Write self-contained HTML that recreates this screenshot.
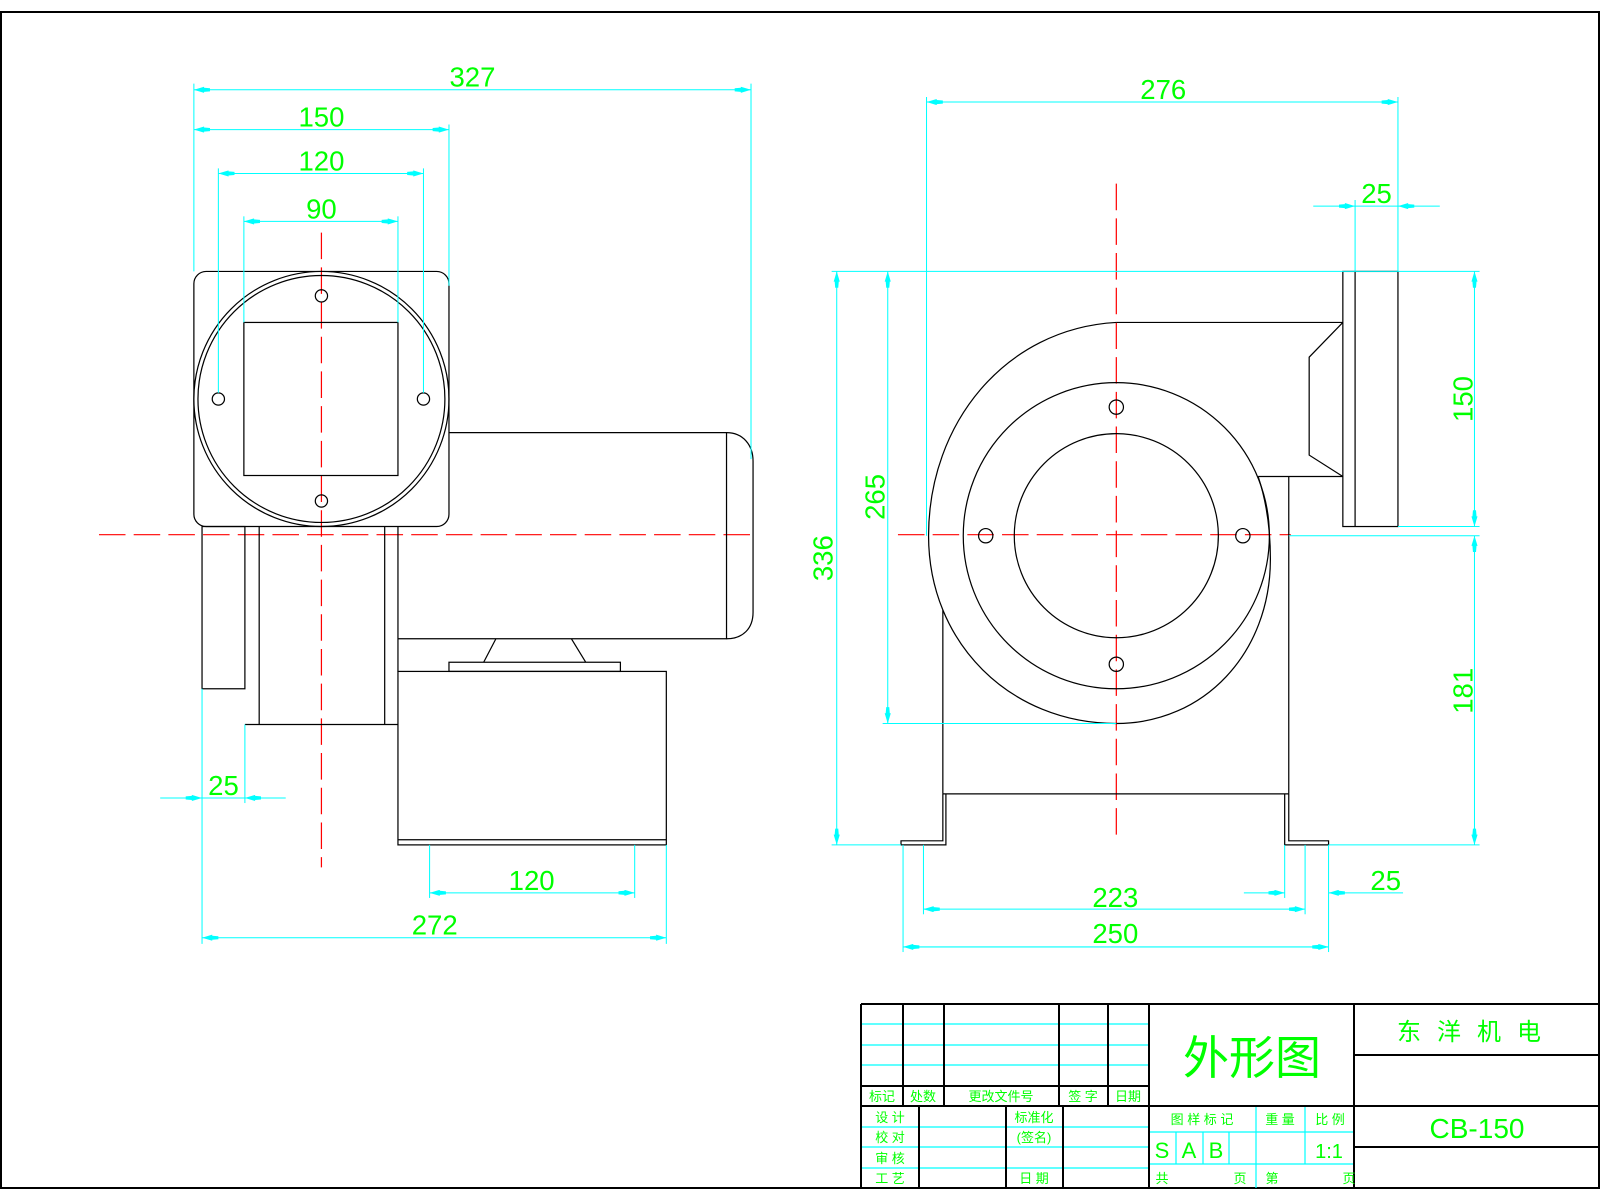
<!DOCTYPE html>
<html><head><meta charset="utf-8"><style>
html,body{margin:0;padding:0;background:#fff;}
svg{display:block;}
text{font-family:"Liberation Sans","Noto Sans CJK SC",sans-serif;}
</style></head><body>
<svg width="1600" height="1200" viewBox="0 0 1600 1200" xmlns="http://www.w3.org/2000/svg">
<defs>
<marker id="a" markerWidth="16" markerHeight="6" refX="16" refY="3" orient="auto-start-reverse" markerUnits="userSpaceOnUse"><path d="M0,1.5 L6,1 L6,0 L16,3 L6,6 L6,5 L0,4.5z" fill="#00ffff"/></marker>
</defs>
<rect x="1" y="12" width="1598" height="1176" fill="none" stroke="#000" stroke-width="2"/>
<g transform="scale(1.0204)">
<g stroke="#ff0000" stroke-width="1.2" stroke-dasharray="26,8" fill="none">
<line x1="97" y1="524" x2="740" y2="524"/>
<line x1="315" y1="228" x2="315" y2="850"/>
<line x1="880" y1="524" x2="1265" y2="524"/>
<line x1="1094" y1="180" x2="1094" y2="822"/>
</g>
<g stroke="#000" stroke-width="1.2" fill="none">
<rect x="190" y="266" width="250" height="250" rx="12"/>
<circle cx="315" cy="391" r="125"/>
<circle cx="315" cy="391" r="121"/>
<rect x="239" y="316" width="151" height="150"/>
<circle cx="315" cy="290" r="6"/><circle cx="315" cy="491" r="6"/>
<circle cx="214" cy="391" r="6"/><circle cx="415" cy="391" r="6"/>
<path d="M440,424 L712,424 L712,626 L390,626"/>
<path d="M712,424 C728,424 738,436 738,452 L738,600 C738,616 728,626 712,626"/>
<rect x="198" y="516" width="42" height="159"/>
<line x1="254" y1="516" x2="254" y2="710"/>
<line x1="377" y1="516" x2="377" y2="710"/>
<line x1="240" y1="710" x2="390" y2="710"/>
<line x1="390" y1="516" x2="390" y2="658"/>
<path d="M486,626 L474,649 M560,626 L574,649"/>
<rect x="440" y="649" width="168" height="9"/>
<rect x="390" y="658" width="263" height="170"/>
<line x1="390" y1="823" x2="653" y2="823"/>
</g>
<g stroke="#000" stroke-width="1.2" fill="none">
<path d="M1094,316 C985,322 910,415 910,525 C910,630 990,709 1094,709 C1180,709 1245,640 1245,548 C1245,515 1240,488 1233,467"/>
<line x1="1094" y1="316" x2="1316" y2="316"/>
<line x1="1233" y1="467" x2="1316" y2="467"/>
<path d="M1316,316 L1283,350 L1283,446 L1316,467"/>
<rect x="1316" y="266" width="54" height="250"/>
<line x1="1328" y1="266" x2="1328" y2="516"/>
<line x1="1263" y1="467" x2="1263" y2="778"/>
<line x1="924" y1="598" x2="924" y2="778"/>
<line x1="924" y1="778" x2="1263" y2="778"/>
<path d="M924,778 L924,824 L883,824 L883,828 L927,828 L927,778"/>
<path d="M1263,778 L1263,824 L1302,824 L1302,828 L1259,828 L1259,778"/>
<circle cx="1094" cy="525" r="150"/>
<circle cx="1094" cy="525" r="100"/>
<circle cx="1094" cy="399" r="7"/><circle cx="1094" cy="651" r="7"/>
<circle cx="966" cy="525" r="7"/><circle cx="1218" cy="525" r="7"/>
</g>
<g stroke="#00ffff" stroke-width="1" fill="none">
<line x1="190" y1="82" x2="190" y2="266"/><line x1="736" y1="82" x2="736" y2="450"/>
<line x1="190" y1="88" x2="736" y2="88" marker-start="url(#a)" marker-end="url(#a)"/>
<line x1="440" y1="122" x2="440" y2="280"/>
<line x1="190" y1="127" x2="440" y2="127" marker-start="url(#a)" marker-end="url(#a)"/>
<line x1="214" y1="165" x2="214" y2="385"/><line x1="415" y1="165" x2="415" y2="385"/>
<line x1="214" y1="170" x2="415" y2="170" marker-start="url(#a)" marker-end="url(#a)"/>
<line x1="239" y1="212" x2="239" y2="316"/><line x1="390" y1="212" x2="390" y2="316"/>
<line x1="239" y1="217" x2="390" y2="217" marker-start="url(#a)" marker-end="url(#a)"/>
<line x1="198" y1="675" x2="198" y2="925"/><line x1="240" y1="710" x2="240" y2="787"/>
<line x1="157" y1="782" x2="198" y2="782" marker-end="url(#a)"/>
<line x1="280" y1="782" x2="240" y2="782" marker-end="url(#a)"/>
<line x1="198" y1="782" x2="240" y2="782"/>
<line x1="421" y1="828" x2="421" y2="880"/><line x1="622" y1="828" x2="622" y2="880"/>
<line x1="421" y1="875" x2="622" y2="875" marker-start="url(#a)" marker-end="url(#a)"/>
<line x1="653" y1="828" x2="653" y2="925"/>
<line x1="198" y1="919" x2="653" y2="919" marker-start="url(#a)" marker-end="url(#a)"/>
<line x1="908" y1="95" x2="908" y2="525"/><line x1="1370" y1="95" x2="1370" y2="266"/>
<line x1="908" y1="100" x2="1370" y2="100" marker-start="url(#a)" marker-end="url(#a)"/>
<line x1="1328" y1="196" x2="1328" y2="266"/>
<line x1="1287" y1="202" x2="1328" y2="202" marker-end="url(#a)"/>
<line x1="1411" y1="202" x2="1370" y2="202" marker-end="url(#a)"/>
<line x1="1328" y1="202" x2="1370" y2="202"/>
<line x1="815" y1="266" x2="1450" y2="266"/>
<line x1="815" y1="828" x2="883" y2="828"/><line x1="1302" y1="828" x2="1450" y2="828"/>
<line x1="820" y1="266" x2="820" y2="828" marker-start="url(#a)" marker-end="url(#a)"/>
<line x1="865" y1="709" x2="1094" y2="709"/>
<line x1="870" y1="266" x2="870" y2="709" marker-start="url(#a)" marker-end="url(#a)"/>
<line x1="1370" y1="516" x2="1450" y2="516"/>
<line x1="1445" y1="266" x2="1445" y2="516" marker-start="url(#a)" marker-end="url(#a)"/>
<line x1="1263" y1="525" x2="1450" y2="525"/>
<line x1="1445" y1="525" x2="1445" y2="828" marker-start="url(#a)" marker-end="url(#a)"/>
<line x1="905" y1="828" x2="905" y2="896"/><line x1="1279" y1="828" x2="1279" y2="896"/>
<line x1="905" y1="891" x2="1279" y2="891" marker-start="url(#a)" marker-end="url(#a)"/>
<line x1="1259" y1="828" x2="1259" y2="880"/><line x1="1302" y1="828" x2="1302" y2="933"/>
<line x1="1219" y1="875" x2="1259" y2="875" marker-end="url(#a)"/>
<line x1="1375" y1="875" x2="1302" y2="875" marker-end="url(#a)"/>
<line x1="885" y1="828" x2="885" y2="933"/>
<line x1="885" y1="928" x2="1302" y2="928" marker-start="url(#a)" marker-end="url(#a)"/>
</g>
<g fill="#00ff00" font-size="27" text-anchor="middle">
<text x="463" y="85">327</text>
<text x="315" y="124">150</text>
<text x="315" y="167">120</text>
<text x="315" y="214">90</text>
<text x="219" y="779">25</text>
<text x="521" y="872">120</text>
<text x="426" y="916">272</text>
<text x="1140" y="97">276</text>
<text x="1349" y="199">25</text>
<text x="1358" y="872">25</text>
<text x="1093" y="889">223</text>
<text x="1093" y="924">250</text>
<text transform="translate(816,547) rotate(-90)">336</text>
<text transform="translate(867,487) rotate(-90)">265</text>
<text transform="translate(1443,391) rotate(-90)">150</text>
<text transform="translate(1443,677) rotate(-90)">181</text>
</g>
</g>
<g stroke="#00ffff" stroke-width="1.2">
<line x1="861" y1="1024" x2="1149" y2="1024"/><line x1="861" y1="1045" x2="1149" y2="1045"/><line x1="861" y1="1065" x2="1149" y2="1065"/>
<line x1="861" y1="1127" x2="1149" y2="1127"/><line x1="861" y1="1147" x2="1149" y2="1147"/><line x1="861" y1="1168" x2="1149" y2="1168"/>
<line x1="1256" y1="1106" x2="1256" y2="1188"/><line x1="1305" y1="1106" x2="1305" y2="1164"/>
<line x1="1149" y1="1132" x2="1354" y2="1132"/><line x1="1149" y1="1164" x2="1354" y2="1164"/>
<line x1="1176" y1="1132" x2="1176" y2="1164"/><line x1="1203" y1="1132" x2="1203" y2="1164"/><line x1="1229" y1="1132" x2="1229" y2="1164"/>
</g>
<g stroke="#000" stroke-width="2" fill="none">
<line x1="861" y1="1004" x2="1599" y2="1004"/>
<line x1="861" y1="1004" x2="861" y2="1188"/>
<line x1="903" y1="1004" x2="903" y2="1106"/><line x1="944" y1="1004" x2="944" y2="1106"/>
<line x1="1059" y1="1004" x2="1059" y2="1106"/><line x1="1108" y1="1004" x2="1108" y2="1106"/>
<line x1="861" y1="1086" x2="1149" y2="1086"/>
<line x1="861" y1="1106" x2="1599" y2="1106"/>
<line x1="919" y1="1106" x2="919" y2="1188"/><line x1="1006" y1="1106" x2="1006" y2="1188"/><line x1="1063" y1="1106" x2="1063" y2="1188"/>
<line x1="1149" y1="1004" x2="1149" y2="1188"/>
<line x1="1354" y1="1004" x2="1354" y2="1188"/>
<line x1="1354" y1="1055" x2="1599" y2="1055"/>
<line x1="1354" y1="1147" x2="1599" y2="1147"/>
</g>
<g fill="#00ff00" font-size="13" text-anchor="middle">
<text x="882" y="1101">标记</text><text x="923" y="1101">处数</text><text x="1001" y="1101">更改文件号</text>
<text x="1083" y="1101">签 字</text><text x="1128" y="1101">日期</text>
<text x="890" y="1122">设 计</text><text x="890" y="1142">校 对</text><text x="890" y="1163">审 核</text><text x="890" y="1183">工 艺</text>
<text x="1034" y="1122">标准化</text><text x="1034" y="1142">(签名)</text><text x="1034" y="1183">日 期</text>
<text x="1202" y="1124">图 样 标 记</text><text x="1280" y="1124">重 量</text><text x="1330" y="1124">比 例</text>
<text x="1162" y="1183">共</text><text x="1240" y="1183">页</text><text x="1272" y="1183">第</text><text x="1349" y="1183">页</text>
</g>
<g fill="#00ff00" text-anchor="middle">
<text x="1252" y="1074" font-size="46">外形图</text>
<text x="1477" y="1040" font-size="24" letter-spacing="16">东洋机电</text>
<text x="1477" y="1138" font-size="28">CB-150</text>
<text x="1162" y="1158" font-size="22">S</text><text x="1189" y="1158" font-size="22">A</text><text x="1216" y="1158" font-size="22">B</text>
<text x="1329" y="1158" font-size="20">1:1</text>
</g>
</svg>
</body></html>
